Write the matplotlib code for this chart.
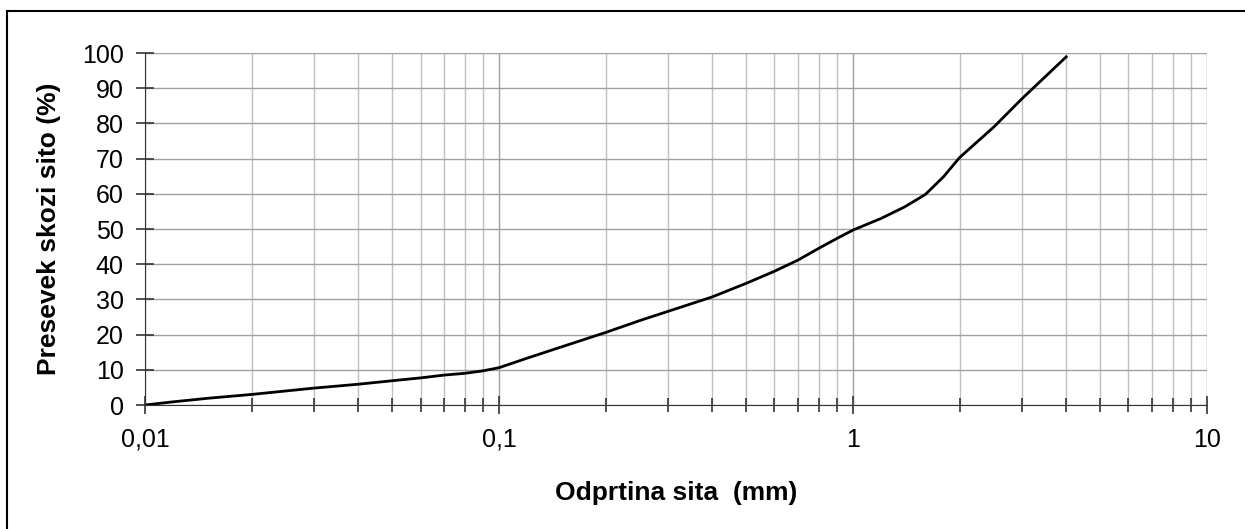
# Grain size distribution curve (sieve analysis), log x axis
import matplotlib.pyplot as plt
from matplotlib.ticker import FixedLocator, FuncFormatter, NullFormatter
from matplotlib.lines import Line2D

plt.rcParams['font.family'] = ['Liberation Sans', 'DejaVu Sans']

# sieve opening (mm) and percent passing
odprtina = [0.01, 0.012, 0.015, 0.02, 0.03, 0.04, 0.05, 0.06, 0.07, 0.08, 0.09,
            0.1, 0.12, 0.15, 0.2, 0.25, 0.3, 0.4, 0.5, 0.6, 0.7, 0.8, 0.9, 1.0,
            1.2, 1.4, 1.6, 1.8, 2.0, 2.5, 3.0, 4.0]
presevek = [0.0, 0.9, 1.9, 3.0, 4.8, 5.9, 6.9, 7.7, 8.5, 9.0, 9.7,
            10.6, 13.3, 16.5, 20.6, 24.0, 26.6, 30.7, 34.6, 38.0, 41.2, 44.5, 47.3, 49.7,
            53.0, 56.3, 59.8, 64.8, 70.3, 79.0, 87.0, 98.9]
x_ticks = [0.01, 0.1, 1, 10]
x_labels = ['0,01', '0,1', '1', '10']
y_ticks = list(range(0, 101, 10))

fig = plt.figure(figsize=(12.45, 5.29), dpi=100)
ax = fig.add_axes([0.1165, 0.2344, 0.9695 - 0.1165, 0.8998 - 0.2344])

ax.plot(odprtina, presevek, color='black', lw=2.0)

ax.set_xscale('log')
ax.set_xlim(0.01, 10)
ax.set_ylim(0, 100)

ax.xaxis.set_major_locator(FixedLocator(x_ticks))
ax.xaxis.set_major_formatter(FuncFormatter(lambda v, p: x_labels[x_ticks.index(v)] if v in x_ticks else ''))
minors = [m * 10.0 ** e for e in (-2, -1, 0) for m in range(2, 10)]
ax.xaxis.set_minor_locator(FixedLocator(minors))
ax.xaxis.set_minor_formatter(NullFormatter())
ax.set_yticks(y_ticks)

ax.grid(which='major', axis='both', color='#a0a0a0', lw=1.0)
ax.grid(which='minor', axis='x', color='#c0c0c0', lw=1.0)
ax.set_axisbelow(True)

ax.spines['top'].set_visible(False)
ax.spines['right'].set_visible(False)
ax.spines['left'].set_color('#333333')
ax.spines['bottom'].set_color('#333333')

ax.tick_params(axis='x', which='major', direction='inout', length=13, width=1.2,
               color='#333333', labelsize=18, pad=10)
ax.tick_params(axis='x', which='minor', direction='inout', length=10, width=1.2, color='#333333')
ax.tick_params(axis='y', which='major', direction='inout', length=13, width=1.2,
               color='#333333', labelsize=18, pad=9)

ax.set_xlabel('Odprtina sita  (mm)', fontsize=19, fontweight='bold', va='center')
ax.xaxis.set_label_coords(0.5, -0.25)
ax.set_ylabel('Presevek skozi sito (%)', fontsize=19, fontweight='bold', va='center')
ax.yaxis.set_label_coords(-0.0904, 0.5)

# frame lines around the chart (top and left visible)
fig.add_artist(Line2D([0.0058, 1.0], [0.9801, 0.9801], transform=fig.transFigure, color='black', lw=1.5))
fig.add_artist(Line2D([0.0058, 0.0058], [0.0, 0.9801], transform=fig.transFigure, color='black', lw=1.5))

plt.savefig('out.png', dpi=100)
